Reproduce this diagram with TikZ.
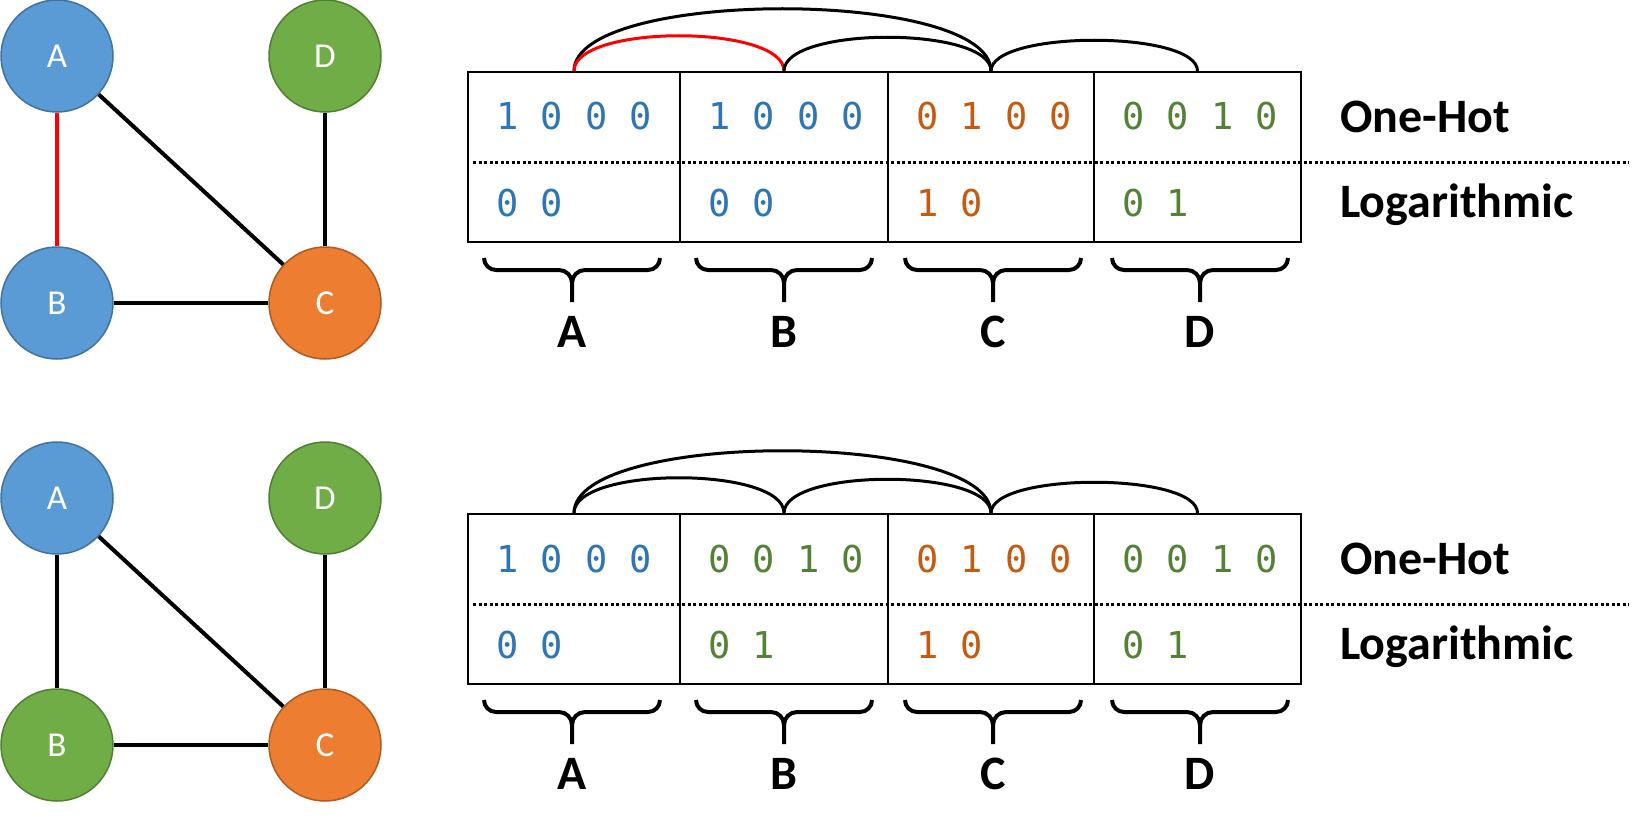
\documentclass[tikz,border=0pt]{standalone}
\usepackage{fontspec}
\setmainfont{Carlito}
\newfontfamily\digitfont{DejaVu Sans Mono}
\usetikzlibrary{calc}
\definecolor{fillblue}{HTML}{5B9BD5}
\definecolor{drawblue}{HTML}{41719C}
\definecolor{fillgreen}{HTML}{70AD47}
\definecolor{drawgreen}{HTML}{507E32}
\definecolor{fillorange}{HTML}{ED7D31}
\definecolor{draworange}{HTML}{AE5A21}
\definecolor{txtblue}{HTML}{2E75B6}
\definecolor{txtgreen}{HTML}{548235}
\definecolor{txtorange}{HTML}{C55A11}
\definecolor{edgered}{HTML}{FF0000}
\tikzset{
  vtx/.style={circle, minimum size=112pt, inner sep=0pt, line width=1.5pt, text=white, font=\fontsize{35}{40}\selectfont},
  vblue/.style={vtx, fill=fillblue, draw=drawblue},
  vgreen/.style={vtx, fill=fillgreen, draw=drawgreen},
  vorange/.style={vtx, fill=fillorange, draw=draworange},
  edge/.style={line width=4pt},
  cellbox/.style={draw, line width=2pt, minimum height=170pt, inner sep=0pt},
  bits/.style={anchor=base west, inner sep=0pt, font=\digitfont\fontsize{37}{40}\selectfont},
  rowlabel/.style={anchor=base west, inner sep=0pt, font=\bfseries\fontsize{48}{56}\selectfont},
  bracelab/.style={anchor=base, inner sep=0pt, font=\bfseries\fontsize{48}{56}\selectfont},
  arcline/.style={line width=3pt},
  bracestyle/.style={line width=4pt},
  dotline/.style={line width=3pt, dash pattern=on 3pt off 2.5pt},
}
% #1 prefix, #2 yshift, #3 style of vertex B, #4 colour of A-B link, #5 colour of B bits, #6 B one-hot, #7 B logarithmic
\newcommand\mypanel[7]{%
\begin{scope}[yshift=#2]
  \node[vblue] (#1A) at (57,56) {A};
  \node[#3] (#1B) at (57,303) {B};
  \node[vorange] (#1C) at (325,303) {C};
  \node[vgreen] (#1D) at (325,56) {D};
  \draw[edge,#4] (#1A) -- (#1B);
  \draw[edge] (#1A) -- (#1C);
  \draw[edge] (#1B) -- (#1C);
  \draw[edge] (#1D) -- (#1C);
  % table
  \node[cellbox, minimum width=212pt] (#1cA) at (574,157) {};
  \node[cellbox, minimum width=208pt] (#1cB) at (784,157) {};
  \node[cellbox, minimum width=206pt] (#1cC) at (991,157) {};
  \node[cellbox, minimum width=207pt] (#1cD) at (1197.5,157) {};
  \coordinate (#1dl) at (473,162);
  \coordinate (#1dr) at (1629,162);
  \draw[dotline] (#1dl) -- (#1dr);
  % bits
  \node[bits, text=txtblue] (#1oA) at (496,130) {1 0 0 0};
  \node[bits, text=txtblue] (#1gA) at (496,216) {0 0};
  \node[bits, text=#5] (#1oB) at (708,130) {#6};
  \node[bits, text=#5] (#1gB) at (708,216) {#7};
  \node[bits, text=txtorange] (#1oC) at (916,130) {0 1 0 0};
  \node[bits, text=txtorange] (#1gC) at (916,216) {1 0};
  \node[bits, text=txtgreen] (#1oD) at (1122,130) {0 0 1 0};
  \node[bits, text=txtgreen] (#1gD) at (1122,216) {0 1};
  % row labels
  \node[rowlabel] (#1oh) at (1340,132) {One-Hot};
  \node[rowlabel] (#1lg) at (1340,217) {Logarithmic};
  % arcs
  \draw[arcline] (#1cA.north) .. controls ($(#1cA.north)+(0,-83)$) and ($(#1cC.north)+(0,-83)$) .. (#1cC.north);
  \draw[arcline,#4] (#1cA.north) .. controls ($(#1cA.north)+(0,-47)$) and ($(#1cB.north)+(0,-47)$) .. (#1cB.north);
  \draw[arcline] (#1cB.north) .. controls ($(#1cB.north)+(0,-45)$) and ($(#1cC.north)+(0,-45)$) .. (#1cC.north);
  \draw[arcline] (#1cC.north) .. controls ($(#1cC.north)+(0,-41)$) and ($(#1cD.north)+(0,-41)$) .. (#1cD.north);
  % braces
  \foreach \xc/\lab in {572/A,784/B,993/C,1200/D}{
    \draw[bracestyle] (\xc-88,258) to[out=-90,in=180] (\xc-76,270) -- (\xc-13,270) to[out=0,in=90] (\xc,283) -- (\xc,302);
    \draw[bracestyle] (\xc+88,258) to[out=-90,in=0] (\xc+76,270) -- (\xc+13,270) to[out=180,in=90] (\xc,283);
    \node[bracelab] (#1lab\lab) at (\xc,347) {\lab};
  }
\end{scope}}
\begin{document}
\begin{tikzpicture}[x=1pt,y=-1pt]
  \useasboundingbox (0,0) rectangle (1632,840);
  \mypanel{t}{0pt}{vblue}{edgered}{txtblue}{1 0 0 0}{0 0}
  \mypanel{b}{-442pt}{vgreen}{black}{txtgreen}{0 0 1 0}{0 1}
\end{tikzpicture}
\end{document}
